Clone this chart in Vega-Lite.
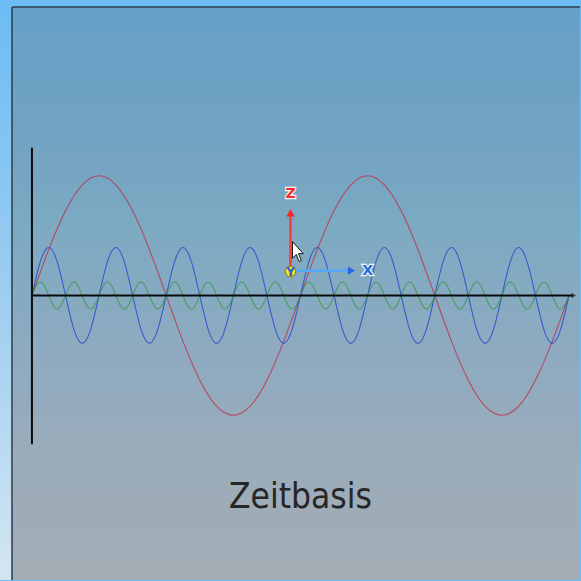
{
  "$schema": "https://vega.github.io/schema/vega-lite/v6.json",
  "width": 581,
  "height": 581,
  "padding": 0,
  "autosize": {"type": "fit", "contains": "padding"},
  "background": "#6cbcf3",
  "config": {"view": {"stroke": null}},
  "datasets": {
    "red": [{"t":0,"v":0},{"t":0.25,"v":0.383},{"t":0.5,"v":0.707},{"t":0.75,"v":0.924},{"t":1,"v":1},{"t":1.25,"v":0.924},{"t":1.5,"v":0.707},{"t":1.75,"v":0.383},{"t":2,"v":0},{"t":2.25,"v":-0.383},{"t":2.5,"v":-0.707},{"t":2.75,"v":-0.924},{"t":3,"v":-1},{"t":3.25,"v":-0.924},{"t":3.5,"v":-0.707},{"t":3.75,"v":-0.383},{"t":4,"v":0},{"t":4.25,"v":0.383},{"t":4.5,"v":0.707},{"t":4.75,"v":0.924},{"t":5,"v":1},{"t":5.25,"v":0.924},{"t":5.5,"v":0.707},{"t":5.75,"v":0.383},{"t":6,"v":0},{"t":6.25,"v":-0.383},{"t":6.5,"v":-0.707},{"t":6.75,"v":-0.924},{"t":7,"v":-1},{"t":7.25,"v":-0.924},{"t":7.5,"v":-0.707},{"t":7.75,"v":-0.383},{"t":8,"v":0}],
    "blue": [
      {"t":0,"v":0},{"t":0.125,"v":0.283},{"t":0.25,"v":0.4},{"t":0.375,"v":0.283},{"t":0.5,"v":0},{"t":0.625,"v":-0.283},{"t":0.75,"v":-0.4},{"t":0.875,"v":-0.283},
      {"t":1,"v":0},{"t":1.125,"v":0.283},{"t":1.25,"v":0.4},{"t":1.375,"v":0.283},{"t":1.5,"v":0},{"t":1.625,"v":-0.283},{"t":1.75,"v":-0.4},{"t":1.875,"v":-0.283},
      {"t":2,"v":0},{"t":2.125,"v":0.283},{"t":2.25,"v":0.4},{"t":2.375,"v":0.283},{"t":2.5,"v":0},{"t":2.625,"v":-0.283},{"t":2.75,"v":-0.4},{"t":2.875,"v":-0.283},
      {"t":3,"v":0},{"t":3.125,"v":0.283},{"t":3.25,"v":0.4},{"t":3.375,"v":0.283},{"t":3.5,"v":0},{"t":3.625,"v":-0.283},{"t":3.75,"v":-0.4},{"t":3.875,"v":-0.283},
      {"t":4,"v":0},{"t":4.125,"v":0.283},{"t":4.25,"v":0.4},{"t":4.375,"v":0.283},{"t":4.5,"v":0},{"t":4.625,"v":-0.283},{"t":4.75,"v":-0.4},{"t":4.875,"v":-0.283},
      {"t":5,"v":0},{"t":5.125,"v":0.283},{"t":5.25,"v":0.4},{"t":5.375,"v":0.283},{"t":5.5,"v":0},{"t":5.625,"v":-0.283},{"t":5.75,"v":-0.4},{"t":5.875,"v":-0.283},
      {"t":6,"v":0},{"t":6.125,"v":0.283},{"t":6.25,"v":0.4},{"t":6.375,"v":0.283},{"t":6.5,"v":0},{"t":6.625,"v":-0.283},{"t":6.75,"v":-0.4},{"t":6.875,"v":-0.283},
      {"t":7,"v":0},{"t":7.125,"v":0.283},{"t":7.25,"v":0.4},{"t":7.375,"v":0.283},{"t":7.5,"v":0},{"t":7.625,"v":-0.283},{"t":7.75,"v":-0.4},{"t":7.875,"v":-0.283},
      {"t":8,"v":0}
    ],
    "green": [
      {"t":0,"v":0},{"t":0.0625,"v":0.08},{"t":0.125,"v":0.113},{"t":0.1875,"v":0.08},{"t":0.25,"v":0},{"t":0.3125,"v":-0.08},{"t":0.375,"v":-0.113},{"t":0.4375,"v":-0.08},
      {"t":0.5,"v":0},{"t":0.5625,"v":0.08},{"t":0.625,"v":0.113},{"t":0.6875,"v":0.08},{"t":0.75,"v":0},{"t":0.8125,"v":-0.08},{"t":0.875,"v":-0.113},{"t":0.9375,"v":-0.08},
      {"t":1,"v":0},{"t":1.0625,"v":0.08},{"t":1.125,"v":0.113},{"t":1.1875,"v":0.08},{"t":1.25,"v":0},{"t":1.3125,"v":-0.08},{"t":1.375,"v":-0.113},{"t":1.4375,"v":-0.08},
      {"t":1.5,"v":0},{"t":1.5625,"v":0.08},{"t":1.625,"v":0.113},{"t":1.6875,"v":0.08},{"t":1.75,"v":0},{"t":1.8125,"v":-0.08},{"t":1.875,"v":-0.113},{"t":1.9375,"v":-0.08},
      {"t":2,"v":0},{"t":2.0625,"v":0.08},{"t":2.125,"v":0.113},{"t":2.1875,"v":0.08},{"t":2.25,"v":0},{"t":2.3125,"v":-0.08},{"t":2.375,"v":-0.113},{"t":2.4375,"v":-0.08},
      {"t":2.5,"v":0},{"t":2.5625,"v":0.08},{"t":2.625,"v":0.113},{"t":2.6875,"v":0.08},{"t":2.75,"v":0},{"t":2.8125,"v":-0.08},{"t":2.875,"v":-0.113},{"t":2.9375,"v":-0.08},
      {"t":3,"v":0},{"t":3.0625,"v":0.08},{"t":3.125,"v":0.113},{"t":3.1875,"v":0.08},{"t":3.25,"v":0},{"t":3.3125,"v":-0.08},{"t":3.375,"v":-0.113},{"t":3.4375,"v":-0.08},
      {"t":3.5,"v":0},{"t":3.5625,"v":0.08},{"t":3.625,"v":0.113},{"t":3.6875,"v":0.08},{"t":3.75,"v":0},{"t":3.8125,"v":-0.08},{"t":3.875,"v":-0.113},{"t":3.9375,"v":-0.08},
      {"t":4,"v":0},{"t":4.0625,"v":0.08},{"t":4.125,"v":0.113},{"t":4.1875,"v":0.08},{"t":4.25,"v":0},{"t":4.3125,"v":-0.08},{"t":4.375,"v":-0.113},{"t":4.4375,"v":-0.08},
      {"t":4.5,"v":0},{"t":4.5625,"v":0.08},{"t":4.625,"v":0.113},{"t":4.6875,"v":0.08},{"t":4.75,"v":0},{"t":4.8125,"v":-0.08},{"t":4.875,"v":-0.113},{"t":4.9375,"v":-0.08},
      {"t":5,"v":0},{"t":5.0625,"v":0.08},{"t":5.125,"v":0.113},{"t":5.1875,"v":0.08},{"t":5.25,"v":0},{"t":5.3125,"v":-0.08},{"t":5.375,"v":-0.113},{"t":5.4375,"v":-0.08},
      {"t":5.5,"v":0},{"t":5.5625,"v":0.08},{"t":5.625,"v":0.113},{"t":5.6875,"v":0.08},{"t":5.75,"v":0},{"t":5.8125,"v":-0.08},{"t":5.875,"v":-0.113},{"t":5.9375,"v":-0.08},
      {"t":6,"v":0},{"t":6.0625,"v":0.08},{"t":6.125,"v":0.113},{"t":6.1875,"v":0.08},{"t":6.25,"v":0},{"t":6.3125,"v":-0.08},{"t":6.375,"v":-0.113},{"t":6.4375,"v":-0.08},
      {"t":6.5,"v":0},{"t":6.5625,"v":0.08},{"t":6.625,"v":0.113},{"t":6.6875,"v":0.08},{"t":6.75,"v":0},{"t":6.8125,"v":-0.08},{"t":6.875,"v":-0.113},{"t":6.9375,"v":-0.08},
      {"t":7,"v":0},{"t":7.0625,"v":0.08},{"t":7.125,"v":0.113},{"t":7.1875,"v":0.08},{"t":7.25,"v":0},{"t":7.3125,"v":-0.08},{"t":7.375,"v":-0.113},{"t":7.4375,"v":-0.08},
      {"t":7.5,"v":0},{"t":7.5625,"v":0.08},{"t":7.625,"v":0.113},{"t":7.6875,"v":0.08},{"t":7.75,"v":0},{"t":7.8125,"v":-0.08},{"t":7.875,"v":-0.113},{"t":7.9375,"v":-0.08},
      {"t":8,"v":0}
    ]
  },
  "encoding": {
    "x": {"field": "t", "type": "quantitative", "axis": null, "scale": {"domain": [-0.4758, 8.1636], "nice": false, "zero": false}},
    "y": {"field": "v", "type": "quantitative", "axis": null, "scale": {"domain": [-2.375, 2.4667], "nice": false, "zero": false}}
  },
  "layer": [
    {
      "data": {"values": [{"t": -0.4758, "t2": 8.1636, "v": 2.4667, "v2": -2.375}]},
      "mark": {"type": "rect", "fill": {"gradient": "linear", "x1": 0, "y1": 0, "x2": 0, "y2": 1, "stops": [{"offset": 0, "color": "#6bbcf4"}, {"offset": 0.5, "color": "#9ccdf0"}, {"offset": 1, "color": "#d4e6f2"}]}},
      "encoding": {"x2": {"field": "t2"}, "y2": {"field": "v2"}}
    },
    {
      "data": {"values": [{"t": -0.2974, "t2": 8.1636, "v": 2.408, "v2": -2.375}]},
      "mark": {"type": "rect", "fill": {"gradient": "linear", "x1": 0, "y1": 0, "x2": 0, "y2": 1, "stops": [{"offset": 0, "color": "#66a0c9"}, {"offset": 0.2, "color": "#70a2c2"}, {"offset": 0.4, "color": "#7eaac2"}, {"offset": 0.6, "color": "#8eaac0"}, {"offset": 0.8, "color": "#9cacba"}, {"offset": 1, "color": "#a2acb4"}]}},
      "encoding": {"x2": {"field": "t2"}, "y2": {"field": "v2"}}
    },
    {
      "data": {"values": [{"t": -0.2974, "v": 2.408, "v2": -2.375}]},
      "mark": {"type": "rule", "color": "#2c3c4c", "strokeWidth": 1.5},
      "encoding": {"y2": {"field": "v2"}}
    },
    {
      "data": {"values": [{"t": -0.2974, "t2": 8.1636, "v": 2.408}]},
      "mark": {"type": "rule", "color": "#2c3c4c", "strokeWidth": 1.5},
      "encoding": {"x2": {"field": "t2"}}
    },
    {
      "data": {"name": "red"},
      "mark": {"type": "line", "interpolate": "natural", "color": "#c02a40", "strokeWidth": 1.1, "opacity": 0.75}
    },
    {
      "data": {"name": "blue"},
      "mark": {"type": "line", "interpolate": "natural", "color": "#2646d2", "strokeWidth": 1.1, "opacity": 0.8}
    },
    {
      "data": {"name": "green"},
      "mark": {"type": "line", "interpolate": "natural", "color": "#3a9a48", "strokeWidth": 1.1, "opacity": 0.8}
    },
    {
      "data": {"values": [{"t": -0.005, "t2": 8.06, "v": 0}]},
      "mark": {"type": "rule", "color": "#0a0a0a", "strokeWidth": 2},
      "encoding": {"x2": {"field": "t2"}}
    },
    {
      "data": {"values": [{"t": 0, "v": 1.233, "v2": -1.242}]},
      "mark": {"type": "rule", "color": "#0a0a0a", "strokeWidth": 2},
      "encoding": {"y2": {"field": "v2"}}
    },
    {
      "data": {"values": [{"t": 8.07, "v": 0}]},
      "mark": {"type": "point", "shape": "triangle-right", "size": 28, "filled": true, "color": "#1a1a1a"}
    },
    {
      "data": {"values": [{"t": 3.851, "v": 0.208, "v2": 0.68}]},
      "mark": {"type": "rule", "color": "#ff3a3a", "strokeWidth": 2.5},
      "encoding": {"y2": {"field": "v2"}}
    },
    {
      "data": {"values": [{"t": 3.851, "v": 0.69}]},
      "mark": {"type": "point", "shape": "triangle-up", "size": 70, "filled": true, "color": "#ff2020", "opacity": 1}
    },
    {
      "data": {"values": [{"t": 3.851, "t2": 4.72, "v": 0.208}]},
      "mark": {"type": "rule", "color": "#5aa8f0", "strokeWidth": 3},
      "encoding": {"x2": {"field": "t2"}}
    },
    {
      "data": {"values": [{"t": 4.76, "v": 0.208}]},
      "mark": {"type": "point", "shape": "triangle-right", "size": 70, "filled": true, "color": "#2a66e0", "opacity": 1}
    },
    {
      "data": {"values": [{"t": 3.851, "v": 0.2}]},
      "mark": {"type": "point", "shape": "circle", "size": 110, "filled": true, "color": "#f2e22a", "stroke": "#8a7a10", "strokeWidth": 1, "opacity": 1}
    },
    {
      "data": {"values": [{"t": 3.851, "v": 0.85, "label": "Z"}]},
      "mark": {"type": "text", "font": "DejaVu Sans", "fontSize": 14, "fontWeight": "bold", "fill": "#ff2a2a", "stroke": "#ffffff", "strokeWidth": 2.5, "strokeOpacity": 0.9, "align": "center", "baseline": "middle"},
      "encoding": {"text": {"field": "label"}}
    },
    {
      "data": {"values": [{"t": 3.851, "v": 0.85, "label": "Z"}]},
      "mark": {"type": "text", "font": "DejaVu Sans", "fontSize": 14, "fontWeight": "bold", "fill": "#ff2a2a", "align": "center", "baseline": "middle"},
      "encoding": {"text": {"field": "label"}}
    },
    {
      "data": {"values": [{"t": 5.0, "v": 0.208, "label": "X"}]},
      "mark": {"type": "text", "font": "DejaVu Sans", "fontSize": 14, "fontWeight": "bold", "fill": "#2a6ae0", "stroke": "#ffffff", "strokeWidth": 2.5, "strokeOpacity": 0.9, "align": "center", "baseline": "middle"},
      "encoding": {"text": {"field": "label"}}
    },
    {
      "data": {"values": [{"t": 5.0, "v": 0.208, "label": "X"}]},
      "mark": {"type": "text", "font": "DejaVu Sans", "fontSize": 14, "fontWeight": "bold", "fill": "#2a6ae0", "align": "center", "baseline": "middle"},
      "encoding": {"text": {"field": "label"}}
    },
    {
      "data": {"values": [{"t": 3.851, "v": 0.2, "label": "Y"}]},
      "mark": {"type": "text", "font": "DejaVu Sans", "fontSize": 12, "fontWeight": "bold", "fill": "#2a5ad8", "align": "center", "baseline": "middle"},
      "encoding": {"text": {"field": "label"}}
    },
    {
      "data": {"values": [{"t": 3.961, "v": 0.36}]},
      "mark": {"type": "point", "shape": "M-0.5,-1L-0.5,0.55L-0.15,0.2L0.12,0.85L0.32,0.75L0.06,0.12L0.5,0.12Z", "size": 467, "filled": true, "fill": "#ffffff", "stroke": "#111111", "strokeWidth": 1, "opacity": 1}
    },
    {
      "data": {"values": [{"t": 4.0, "v": -1.775, "label": "Zeitbasis"}]},
      "mark": {"type": "text", "font": "DejaVu Sans Condensed, Roboto, sans-serif", "fontSize": 35, "fontWeight": 300, "fill": "#262626", "align": "center", "baseline": "alphabetic"},
      "encoding": {"text": {"field": "label"}}
    }
  ]
}
